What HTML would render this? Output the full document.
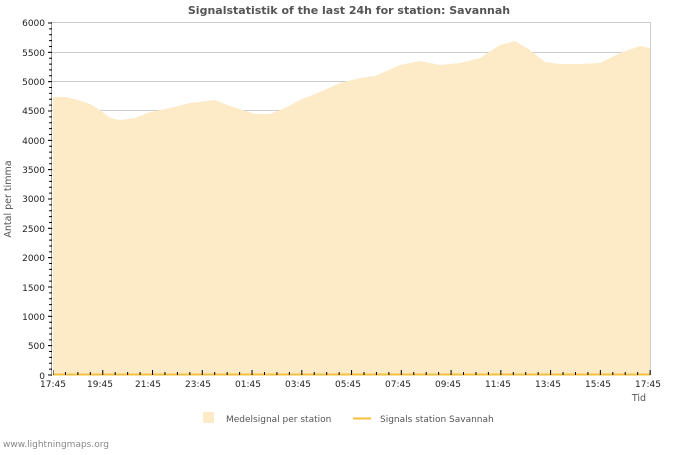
<!DOCTYPE html><html><head><style>body{margin:0;background:#fff}svg{font-family:"DejaVu Sans","Liberation Sans",sans-serif}</style></head><body>
<svg width="700" height="450" viewBox="0 0 700 450" xmlns="http://www.w3.org/2000/svg">
<text x="349" y="14" text-anchor="middle" font-size="11" font-weight="bold" fill="#555">Signalstatistik of the last 24h for station: Savannah</text>
<g stroke="#ccc" stroke-width="1">
<line x1="51" y1="22.5" x2="650" y2="22.5"/><line x1="51" y1="52.5" x2="650" y2="52.5"/><line x1="51" y1="81.5" x2="650" y2="81.5"/><line x1="51" y1="110.5" x2="650" y2="110.5"/><line x1="51" y1="140.5" x2="650" y2="140.5"/><line x1="51" y1="169.5" x2="650" y2="169.5"/><line x1="51" y1="198.5" x2="650" y2="198.5"/><line x1="51" y1="228.5" x2="650" y2="228.5"/><line x1="51" y1="257.5" x2="650" y2="257.5"/><line x1="51" y1="287.5" x2="650" y2="287.5"/><line x1="51" y1="316.5" x2="650" y2="316.5"/><line x1="51" y1="345.5" x2="650" y2="345.5"/><line x1="650.5" y1="22" x2="650.5" y2="375"/>
</g>
<path d="M53,375 L53,97 L65,97 L75,99 L90,104 L100,110 L110,118 L120,120 L135,118 L150,112 L170,108 L190,103 L215,100 L230,106 L255,114 L270,114 L285,108 L300,100 L320,92 L340,83 L360,78 L375,76 L400,65 L420,61 L440,65 L460,63 L480,58 L500,45 L515,41 L530,50 L545,62 L560,64 L580,64 L600,63 L620,53 L640,46 L650,48 L650,375 Z" fill="#fdebc8"/>
<line x1="53" y1="374.5" x2="650" y2="374.5" stroke="#f5c03a" stroke-width="2"/>
<line x1="51.5" y1="22" x2="51.5" y2="376" stroke="#999"/>
<line x1="50.5" y1="22" x2="50.5" y2="376" stroke="#000" stroke-width="3" stroke-dasharray="1 4.867" stroke-dashoffset="-0.5"/>
<line x1="49" y1="22" x2="49" y2="376" stroke="#000" stroke-width="2" stroke-dasharray="1 28.33" stroke-dashoffset="-0.5"/>
<line x1="53" y1="373.5" x2="651" y2="373.5" stroke="#000" stroke-width="3" stroke-dasharray="1 11.44" stroke-dashoffset="0.5"/>
<line x1="53" y1="371" x2="651" y2="371" stroke="#000" stroke-width="2" stroke-dasharray="1 48.76" stroke-dashoffset="0.5"/>
<g font-size="9" fill="#222" text-anchor="end">
<text x="45" y="26">6000</text><text x="45" y="56">5500</text><text x="45" y="85">5000</text><text x="45" y="114">4500</text><text x="45" y="144">4000</text><text x="45" y="173">3500</text><text x="45" y="202">3000</text><text x="45" y="232">2500</text><text x="45" y="261">2000</text><text x="45" y="291">1500</text><text x="45" y="320">1000</text><text x="45" y="349">500</text><text x="45" y="379">0</text>
</g>
<g font-size="9" fill="#222" text-anchor="middle">
<text x="53" y="387">17:45</text><text x="100" y="387">19:45</text><text x="148" y="387">21:45</text><text x="198" y="387">23:45</text><text x="248" y="387">01:45</text><text x="298" y="387">03:45</text><text x="348" y="387">05:45</text><text x="398" y="387">07:45</text><text x="448" y="387">09:45</text><text x="498" y="387">11:45</text><text x="548" y="387">13:45</text><text x="598" y="387">15:45</text><text x="648" y="387">17:45</text>
</g>
<text x="646" y="401" font-size="9.5" fill="#555" text-anchor="end">Tid</text>
<text transform="translate(11,199) rotate(-90)" font-size="9.5" fill="#555" text-anchor="middle">Antal per timma</text>
<rect x="203" y="412" width="11" height="11" fill="#fdebc8"/>
<text x="226" y="422" font-size="9" fill="#555">Medelsignal per station</text>
<line x1="353" y1="418.5" x2="371" y2="418.5" stroke="#f5c03a" stroke-width="2"/>
<text x="380" y="422" font-size="9" fill="#555">Signals station Savannah</text>
<text x="3" y="447" font-size="9" fill="#888">www.lightningmaps.org</text>
</svg></body></html>
